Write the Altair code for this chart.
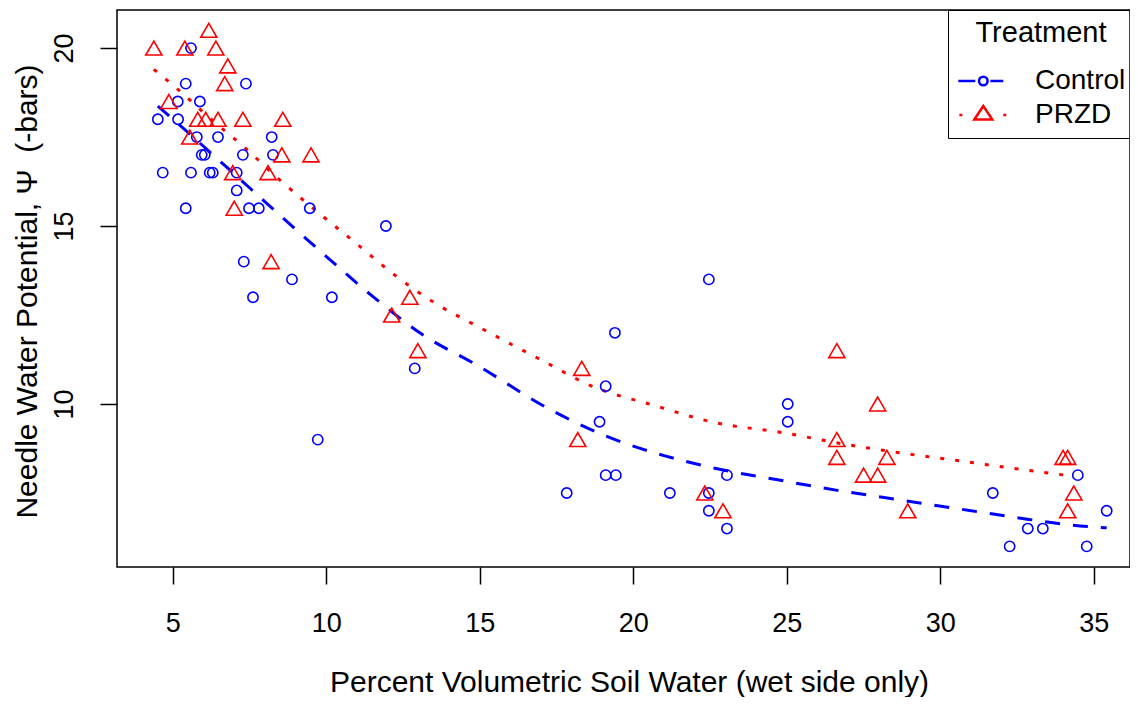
import altair as alt
import pandas as pd

# ---- data ----
treatments = ["Control", "PRZD"]
colors = ["#0000FF", "#FF0000"]

control_x = [5.59, 5.42, 7.38, 5.16, 5.88, 4.51, 5.17, 5.78, 6.47, 8.22, 5.94, 6.04, 7.28, 8.26,
             4.67, 5.59, 6.20, 6.30, 7.08, 7.08, 5.42, 7.48, 7.80, 9.46, 11.94, 7.31, 8.88, 7.61,
             10.18, 12.88, 9.72, 22.46, 19.40, 19.10, 18.90, 19.10, 19.43, 17.83, 21.19, 22.46,
             23.05, 22.46, 23.05, 25.03, 25.03, 34.48, 31.71, 35.42, 32.85, 33.34, 32.26, 34.77]
control_y = [20.0, 19.0, 19.0, 18.5, 18.5, 18.0, 18.0, 17.5, 17.5, 17.5, 17.0, 17.0, 17.0, 17.0,
             16.5, 16.5, 16.5, 16.5, 16.5, 16.0, 15.5, 15.5, 15.5, 15.5, 15.0, 14.0, 13.5, 13.0,
             13.0, 11.0, 9.0, 13.5, 12.0, 10.5, 9.5, 8.0, 8.0, 7.5, 7.5, 7.5,
             8.0, 7.0, 6.5, 10.0, 9.5, 8.0, 7.5, 7.0, 6.5, 6.5, 6.0, 6.0]

przd_x = [4.38, 5.39, 6.40, 6.17, 6.79, 6.69, 4.87, 5.81, 6.07, 6.47, 7.28, 8.58, 5.55, 8.55,
          9.50, 6.95, 8.10, 7.00, 8.20, 12.72, 12.13, 12.98, 18.32, 18.19, 22.33, 22.92, 26.63,
          27.96, 26.63, 26.63, 28.26, 27.50, 27.96, 28.94, 34.00, 34.15, 34.35, 34.15]
przd_y = [20.0, 20.0, 20.0, 20.5, 19.5, 19.0, 18.5, 18.0, 18.0, 18.0, 18.0, 18.0, 17.5, 17.0,
          17.0, 16.5, 16.5, 15.5, 14.0, 13.0, 12.5, 11.5, 11.0, 9.0, 7.5, 7.0, 11.5,
          10.0, 9.0, 8.5, 8.5, 8.0, 8.0, 7.0, 8.5, 8.5, 7.5, 7.0]

# fitted curves
control_fit_x = [4.51, 5.4, 6.9, 8.3, 9.9, 11.5, 13.15, 14.85, 17.3, 19.1, 21.0, 22.85, 24.7,
                 26.6, 28.5, 30.4, 32.4, 34.25, 35.42]
control_fit_y = [18.37, 17.7, 16.54, 15.45, 14.22, 13.03, 11.94, 11.12, 9.84, 9.10, 8.55, 8.16,
                 7.87, 7.58, 7.33, 7.08, 6.82, 6.60, 6.52]
przd_fit_x = [4.38, 5.23, 6.27, 7.28, 8.45, 9.72, 10.96, 12.23, 13.53, 14.97, 16.95, 18.71,
              20.64, 22.59, 24.9, 26.82, 28.75, 30.64, 32.56, 34.35]
przd_fit_y = [19.40, 18.79, 17.98, 17.25, 16.32, 15.39, 14.52, 13.62, 12.84, 12.16, 11.26, 10.48,
              9.97, 9.49, 9.19, 8.88, 8.62, 8.40, 8.17, 7.97]

x_ticks = [5, 10, 15, 20, 25, 30, 35]
y_ticks = [10, 15, 20]
x_domain = [3.18, 36.18]
y_domain = [5.42, 21.07]

FONT = "Liberation Sans"

ctrl = pd.DataFrame({"x": control_x, "y": control_y, "Treatment": "Control"})
przd = pd.DataFrame({"x": przd_x, "y": przd_y, "Treatment": "PRZD"})
ctrl_fit = pd.DataFrame({"x": control_fit_x, "y": control_fit_y})
przd_fit = pd.DataFrame({"x": przd_fit_x, "y": przd_fit_y})
allpts = pd.concat([ctrl, przd], ignore_index=True)

xs = alt.Scale(domain=x_domain, nice=False, zero=False)
ys = alt.Scale(domain=y_domain, nice=False, zero=False)

x_axis = alt.Axis(values=x_ticks, title="Percent Volumetric Soil Water (wet side only)",
                  titleX=512, titleY=124, titleBaseline="alphabetic", titleFontSize=30,
                  labelBaseline="alphabetic", labelPadding=47, labelFontSize=27,
                  labelFlush=False)
y_axis = alt.Axis(values=y_ticks, title="Needle Water Potential, \u03a8\u00a0 (-bars)",
                  titleX=-81, titleY=281, titleAngle=270, titleBaseline="alphabetic",
                  titleAlign="center", titleFontSize=30,
                  labelAngle=270, labelAlign="center", labelBaseline="alphabetic",
                  labelPadding=28, labelFontSize=27, labelFlush=False)

ctrl_line = alt.Chart(ctrl_fit).mark_line(
    color=colors[0], strokeWidth=3, strokeDash=[15, 13], interpolate="monotone"
).encode(x=alt.X("x:Q", scale=xs, axis=x_axis), y=alt.Y("y:Q", scale=ys, axis=y_axis))

przd_line = alt.Chart(przd_fit).mark_line(
    color=colors[1], strokeWidth=3, strokeDash=[4, 11], interpolate="monotone"
).encode(x=alt.X("x:Q", scale=xs), y=alt.Y("y:Q", scale=ys))

ctrl_pts = alt.Chart(ctrl).mark_point(
    shape="circle", color=colors[0], filled=False, size=105, strokeWidth=1.6, opacity=1
).encode(x=alt.X("x:Q", scale=xs), y=alt.Y("y:Q", scale=ys))

przd_pts = alt.Chart(przd).mark_point(
    shape="triangle-up", color=colors[1], filled=False, size=260, strokeWidth=1.6, opacity=1
).encode(x=alt.X("x:Q", scale=xs), y=alt.Y("y:Q", scale=ys))

# legend-only layer (no marks drawn); legend symbols are line + marker paths
ctrl_sym = ("M-1.01,0H-0.04M0.82,0H1.56"
            "M0.171,0A0.246,0.246 0 1,0 0.663,0A0.246,0.246 0 1,0 0.171,0")
przd_sym = ("M-0.95,0H-0.78M1.56,0H1.73"
            "M0.417,-0.514L-0.097,0.257L0.931,0.257Z")

LEG_SIZE = 1225
leg = alt.Legend(title="Treatment", orient="none", legendX=831, legendY=0)

legend_layer = alt.Chart(allpts).transform_filter("false").mark_point(
    filled=False, size=LEG_SIZE, strokeWidth=2.5, opacity=1
).encode(
    x=alt.X("x:Q", scale=xs),
    y=alt.Y("y:Q", scale=ys),
    color=alt.Color("Treatment:N", scale=alt.Scale(domain=treatments, range=colors), legend=leg),
    shape=alt.Shape("Treatment:N", scale=alt.Scale(domain=treatments, range=[ctrl_sym, przd_sym]),
                    legend=leg),
)

chart = alt.layer(ctrl_line, przd_line, ctrl_pts, przd_pts, legend_layer).properties(
    width=1013, height=557,
    autosize=alt.AutoSizeParams(type="none"),
    padding={"left": 109, "top": 2, "right": 0, "bottom": 130},
).configure_view(
    stroke="#000000", strokeWidth=1.5
).configure_axis(
    domain=False, grid=False, ticks=True, tickSize=17, tickWidth=1.5, tickColor="#000000",
    labelColor="#000000", titleColor="#000000", labelFont=FONT, titleFont=FONT,
    titleFontWeight="normal",
).configure_legend(
    strokeColor="#000000", fillColor="transparent",
    padding=9, cornerRadius=0, columnPadding=0,
    titleFont=FONT, titleFontSize=29, titleFontWeight="normal", titleColor="#000000",
    titleAnchor="middle", titlePadding=14,
    labelFont=FONT, labelFontSize=28, labelColor="#000000", labelOffset=40,
    symbolSize=LEG_SIZE, symbolStrokeWidth=2.5, rowPadding=1,
)

chart.save("out.html", embed_options={"renderer": "svg", "actions": False})
